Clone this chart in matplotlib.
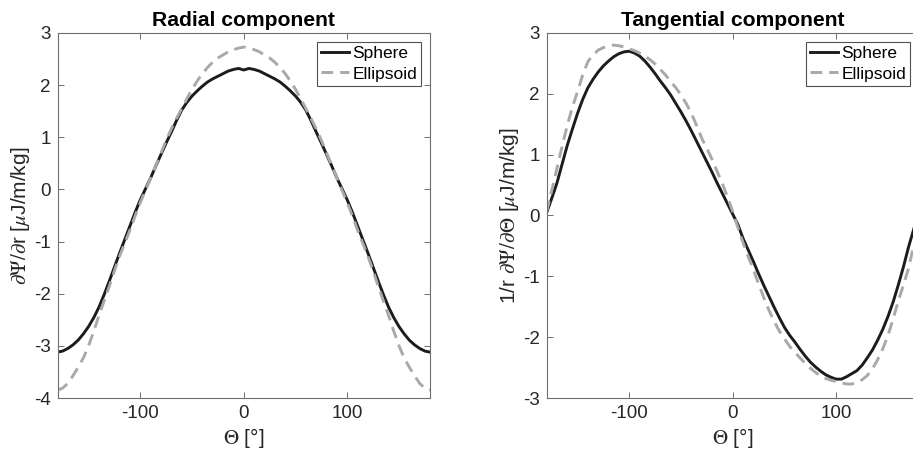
import matplotlib
matplotlib.use("Agg")
import matplotlib.pyplot as plt

# ---- data ----
theta = list(range(-180, 181, 5))

# radial component, symmetric about 0 (values for |theta| = 0, 5, ..., 180)
radial_sphere_half = [2.29, 2.32, 2.30, 2.27, 2.22, 2.17, 2.12, 2.06, 1.98, 1.89, 1.79,
                      1.67, 1.52, 1.32, 1.10, 0.89, 0.67, 0.45, 0.22, 0.01, -0.20, -0.44,
                      -0.70, -0.96, -1.22, -1.49, -1.76, -2.02, -2.26, -2.46, -2.63, -2.77,
                      -2.89, -2.98, -3.05, -3.10, -3.12]
radial_ellipsoid_half = [2.73, 2.71, 2.68, 2.64, 2.58, 2.52, 2.44, 2.34, 2.22, 2.08, 1.92,
                         1.74, 1.55, 1.36, 1.16, 0.94, 0.70, 0.46, 0.22, -0.02, -0.25,
                         -0.51, -0.78, -1.03, -1.28, -1.56, -1.86, -2.14, -2.42, -2.72,
                         -3.00, -3.23, -3.41, -3.57, -3.72, -3.81, -3.85]
radial_sphere = radial_sphere_half[:0:-1] + radial_sphere_half
radial_ellipsoid = radial_ellipsoid_half[:0:-1] + radial_ellipsoid_half

tang_sphere = [0.04, 0.28, 0.53, 0.84, 1.15, 1.42, 1.68, 1.91, 2.10, 2.24, 2.36, 2.46,
               2.54, 2.61, 2.66, 2.69, 2.70, 2.67, 2.62, 2.54, 2.44, 2.33, 2.21, 2.10,
               1.98, 1.84, 1.70, 1.55, 1.39, 1.22, 1.05, 0.88, 0.71, 0.53, 0.36, 0.19,
               0.02, -0.15, -0.38, -0.57, -0.76, -0.96, -1.15, -1.33, -1.51, -1.68,
               -1.84, -1.97, -2.08, -2.20, -2.31, -2.41, -2.49, -2.56, -2.62, -2.66,
               -2.69, -2.69, -2.65, -2.60, -2.55, -2.46, -2.34, -2.21, -2.05, -1.87,
               -1.66, -1.42, -1.14, -0.84, -0.51, -0.22, 0.06]

tang_ellipsoid = [0.05, 0.41, 0.77, 1.13, 1.48, 1.78, 2.04, 2.31, 2.53, 2.64, 2.72, 2.76,
                  2.79, 2.80, 2.79, 2.77, 2.74, 2.71, 2.67, 2.62, 2.56, 2.49, 2.40, 2.31,
                  2.20, 2.10, 1.98, 1.84, 1.68, 1.48, 1.27, 1.10, 0.92, 0.72, 0.52, 0.30,
                  0.06, -0.20, -0.45, -0.68, -0.89, -1.13, -1.35, -1.56, -1.74, -1.90,
                  -2.03, -2.15, -2.25, -2.34, -2.43, -2.51, -2.58, -2.64, -2.68, -2.71,
                  -2.73, -2.75, -2.77, -2.77, -2.74, -2.70, -2.63, -2.52, -2.37, -2.19,
                  -1.97, -1.70, -1.40, -1.14, -0.86, -0.48, -0.06]

xticks = [-100, 0, 100]
radial_yticks = [-4, -3, -2, -1, 0, 1, 2, 3]
tang_yticks = [-3, -2, -1, 0, 1, 2, 3]
series_names = ["Sphere", "Ellipsoid"]

# ---- style ----
plt.rcParams["font.family"] = ["Liberation Sans", "DejaVu Sans"]
plt.rcParams["mathtext.fontset"] = "stix"
plt.rcParams["axes.unicode_minus"] = False
AX_COL = "#262626"
FRAME_COL = "#6e6e6e"
SPH_COL = "#1c1c1c"
ELL_COL = "#a9a9a9"

fig = plt.figure(figsize=(9.13, 4.58), dpi=100)
ax1 = fig.add_axes([0.063, 0.131, 0.408, 0.797])
ax2 = fig.add_axes([0.5986, 0.131, 0.408, 0.797])


def style(ax, sph, ell, ylim, yticks, title, ylabel):
    ax.plot(theta, sph, color=SPH_COL, lw=2.1, label=series_names[0],
            solid_joinstyle="round")
    ax.plot(theta, ell, color=ELL_COL, lw=2.1, dashes=(4.0, 2.4),
            label=series_names[1])
    ax.set_xlim(-180, 180)
    ax.set_ylim(*ylim)
    ax.set_xticks(xticks)
    ax.set_yticks(yticks)
    ax.tick_params(direction="in", top=True, right=True, length=4, width=0.7,
                   colors=FRAME_COL, labelcolor=AX_COL, labelsize=13.5, pad=5)
    for s in ax.spines.values():
        s.set_color(FRAME_COL)
        s.set_linewidth(0.8)
    ax.set_title(title, fontsize=15.2, fontweight="bold", color="black", pad=5)
    ax.set_xlabel(r"$\Theta$ [°]", fontsize=15, color=AX_COL, labelpad=3)
    ax.set_ylabel(ylabel, fontsize=15, color=AX_COL, labelpad=1)
    leg = ax.legend(loc="upper right", fontsize=12.5, frameon=True, fancybox=False,
                    handlelength=1.6, handletextpad=0.2, borderpad=0.25,
                    labelspacing=0.3, borderaxespad=0.5)
    leg.get_frame().set_edgecolor(AX_COL)
    leg.get_frame().set_linewidth(0.8)


style(ax1, radial_sphere, radial_ellipsoid, (-4, 3), radial_yticks, "Radial component",
      r"$\partial\Psi/\partial$r [$\mu$J/m/kg]")
style(ax2, tang_sphere, tang_ellipsoid, (-3, 3), tang_yticks, "Tangential component",
      r"1/r $\partial\Psi/\partial\Theta$ [$\mu$J/m/kg]")

fig.savefig("out.png", dpi=100)
